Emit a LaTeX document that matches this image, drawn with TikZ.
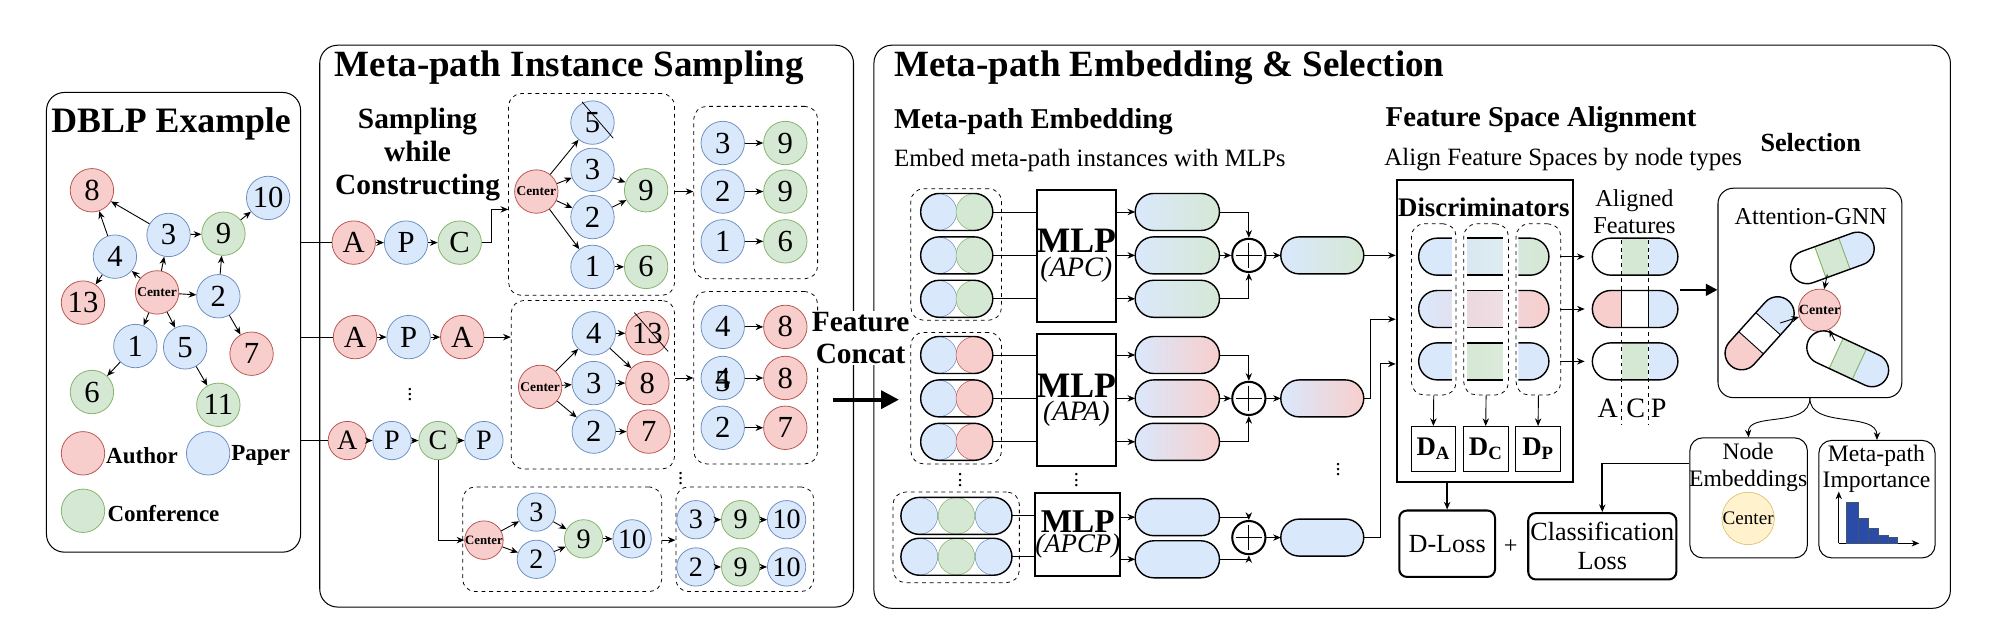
\documentclass[tikz,border=0pt]{standalone}
\usepackage{fontspec}
\setmainfont{Liberation Serif}
\usetikzlibrary{arrows.meta,calc}
\definecolor{rd}{HTML}{F8CECC}\definecolor{rdb}{HTML}{B85450}
\definecolor{bl}{HTML}{DAE8FC}\definecolor{blb}{HTML}{6C8EBF}
\definecolor{gr}{HTML}{D5E8D4}\definecolor{grb}{HTML}{82B366}
\definecolor{ye}{HTML}{FFF2CC}\definecolor{yeb}{HTML}{D6B656}
\definecolor{bar}{HTML}{2A4BA8}
\newcommand\fs[1]{\fontsize{#1}{#1}\selectfont}
% clipped pill with three sections: #1 scope opts, #2 half length, #3 half height, #4 split, #5 #6 #7 colours, #8 divider colour
\newcommand\tripill[8]{%
 \begin{scope}[#1]
 \begin{scope}\clip[rounded corners=#3 pt] (-#2,-#3) rectangle (#2,#3);
 \fill[#5] (-#2,-#3) rectangle (-#4,#3);
 \fill[#6] (-#4,-#3) rectangle (#4,#3);
 \fill[#7] (#4,-#3) rectangle (#2,#3);
 \end{scope}
 \draw[#8,line width=0.7pt] (-#4,-#3) -- (-#4,#3) (#4,-#3) -- (#4,#3);
 \draw[line width=1.1pt,rounded corners=#3 pt] (-#2,-#3) rectangle (#2,#3);
 \end{scope}}
\begin{document}
\begin{tikzpicture}[x=1pt,y=-1pt,
 nd/.style={circle,draw,line width=0.6pt,minimum size=34pt,inner sep=0pt,font=\fs{24}},
 sm/.style={minimum size=30pt,font=\fs{22}},
 A/.style={nd,fill=rd,draw=rdb},
 P/.style={nd,fill=bl,draw=blb},
 C/.style={nd,fill=gr,draw=grb},
 ctr/.style={A,font=\bfseries\fs{10.5}},
 arr/.style={-{Stealth[length=6pt,width=5pt]},line width=0.7pt},
 panel/.style={draw,line width=0.8pt,rounded corners=14pt,anchor=north west,inner sep=0pt},
 dbox/.style={draw,dashed,line width=0.6pt,rounded corners=10pt,anchor=north west,inner sep=0pt},
 ttl/.style={font=\bfseries\fs{29},anchor=west,inner sep=0pt},
 sub/.style={font=\bfseries\fs{22.5},anchor=west,inner sep=0pt},
 txt/.style={font=\fs{19.5},anchor=west,inner sep=0pt},
 vd/.style={inner sep=0pt,font=\fs{16}},
 mlp/.style={draw,line width=1.6pt,anchor=north west,inner sep=0pt,align=center},
 plus/.style={circle,draw,line width=1.6pt,minimum size=26pt,inner sep=0pt,
   path picture={\draw[line width=0.8pt] ($(path picture bounding box.north)+(0,3)$) -- ($(path picture bounding box.south)+(0,-3)$)
   ($(path picture bounding box.west)+(3,0)$) -- ($(path picture bounding box.east)+(-3,0)$);}},
 rbox/.style={draw,line width=1.6pt,rounded corners=6pt,anchor=north west,inner sep=0pt,align=center,font=\fs{20.5}},
 lbl/.style={font=\bfseries\fs{18},anchor=west,inner sep=0pt},
 cross/.style={line width=0.6pt}
]
\useasboundingbox (0,0) rectangle (1560,492.6);
% ---------------- panels
\node[panel,minimum width=199pt,minimum height=360pt] (dblp) at (36,72) {};
\node[panel,minimum width=418pt,minimum height=440pt] (samp) at (250,35) {};
\node[panel,minimum width=843pt,minimum height=441pt] (emb) at (684,35) {};
\node[font=\bfseries\fs{28},inner sep=0pt] (t1) at (134,97) {DBLP Example};
\node[ttl] (t2) at (262,53) {Meta-path Instance Sampling};
\node[ttl] (t3) at (700,53) {Meta-path Embedding \& Selection};
% ---------------- DBLP graph
\node[A] (d8) at (72,149) {8};
\node[P] (d10) at (210,155) {10};
\node[P] (d3) at (132,184) {3};
\node[C] (d9) at (175,183) {9};
\node[P] (d4) at (90,201) {4};
\node[A] (d13) at (65,237) {13};
\node[ctr] (dc) at (123,229) {Center};
\node[P] (d2) at (171,232) {2};
\node[P] (d1) at (106,271) {1};
\node[P] (d5) at (145,272) {5};
\node[A] (d7) at (197,277) {7};
\node[C] (d6) at (72,307) {6};
\node[C] (d11) at (171,317) {11};
\foreach \a/\b in {d3/d8,d4/d8,d3/d9,d9/d10,dc/d3,dc/d4,d4/d13,dc/d2,d2/d9,d2/d7,dc/d1,dc/d5,d1/d6,d5/d11}
  \draw[arr] (\a) -- (\b);
\node[A] (la) at (65,355) {};
\node[lbl] (lat) at (83,357) {Author};
\node[P] (lp) at (163,355) {};
\node[lbl] (lpt) at (181,357) {Paper};
\node[C] (lc) at (65,400) {};
\node[lbl] (lct) at (84,402) {Conference};
% ---------------- sampling
\node[font=\bfseries\fs{23},align=center,inner sep=0pt] (swc) at (327,121) {Sampling\\[3pt]while\\[3pt]Constructing};
\node[A] (r1a) at (277,190) {A};
\node[P] (r1p) at (318,190) {P};
\node[C] (r1c) at (360,190) {C};
\node[A] (r2a) at (278,264) {A};
\node[P] (r2p) at (320,264) {P};
\node[A] (r2b) at (362,264) {A};
\node[vd] (sv1) at (321,306) {$\vdots$};
\node[A,sm] (r3a) at (272,345) {A};
\node[P,sm] (r3p) at (307,345) {P};
\node[C,sm] (r3c) at (343,345) {C};
\node[P,sm] (r3q) at (379,345) {P};
\foreach \a/\b in {r1a/r1p,r1p/r1c,r2a/r2p,r2p/r2b,r3a/r3p,r3p/r3c,r3c/r3q} \draw[arr] (\a) -- (\b);
\foreach \r in {r1a,r2a,r3a} \draw[line width=0.7pt] (dblp.east |- \r) -- (\r);
% box 1
\node[dbox,minimum width=130pt,minimum height=158pt] (b1) at (398,73) {};
\node[ctr] (c1) at (420,150) {Center};
\node[P] (b1n5) at (464,96) {5};
\node[P] (b1n3) at (464,133) {3};
\node[P] (b1n2) at (464,170) {2};
\node[C] (b1n9) at (506,149) {9};
\node[P] (b1n1) at (464,209) {1};
\node[C] (b1n6) at (506,209) {6};
\draw[cross] (b1n5.north west)++(4,-4) -- ($(b1n5.south east)+(4,0)$);
\foreach \a/\b in {c1/b1n5,c1/b1n3,c1/b1n2,c1/b1n1,b1n3/b1n9,b1n2/b1n9,b1n1/b1n6} \draw[arr] (\a) -- (\b);
\coordinate (k1) at (385,164);
\draw[arr] (r1c) -| (k1) -- (b1.west |- k1);
% box 2
\node[dbox,minimum width=128pt,minimum height=132pt] (b2) at (400,235) {};
\node[ctr] (c2) at (423,303) {Center};
\node[P] (b2n4) at (465,261) {4};
\node[A] (b2n13) at (507,261) {13};
\node[P] (b2n3) at (465,300) {3};
\node[A] (b2n8) at (507,300) {8};
\node[P] (b2n2) at (465,338) {2};
\node[A] (b2n7) at (508,338) {7};
\draw[cross] ($(b2n13.north west)+(2,-4)$) -- ($(b2n13.south east)+(4,2)$);
\foreach \a/\b in {c2/b2n4,c2/b2n3,c2/b2n2,b2n4/b2n13,b2n4/b2n8,b2n3/b2n8,b2n2/b2n7} \draw[arr] (\a) -- (\b);
\draw[arr] (r2b) -- (b2.west |- r2b);
% box 3
\node[dbox,minimum width=156pt,minimum height=82pt] (b3) at (362,381) {};
\node[ctr,minimum size=30pt,font=\bfseries\fs{10}] (c3) at (379,423) {Center};
\node[P,sm] (b3n3) at (420,401) {3};
\node[P,sm] (b3n2) at (420,438) {2};
\node[C,sm] (b3n9) at (457,422) {9};
\node[P,sm] (b3n10) at (495,422) {10};
\foreach \a/\b in {c3/b3n3,c3/b3n2,b3n3/b3n9,b3n2/b3n9,b3n9/b3n10} \draw[arr] (\a) -- (\b);
\draw[arr] (r3c) |- (c3);
% box A
\node[dbox,minimum width=97pt,minimum height=135pt] (ba) at (543,83) {};
\node[P] (ba3) at (566,112) {3}; \node[C] (ba9) at (615,112) {9};
\node[P] (ba2) at (566,150) {2}; \node[C] (ba9b) at (615,150) {9};
\node[P] (ba1) at (566,189) {1}; \node[C] (ba6) at (615,189) {6};
\foreach \a/\b in {ba3/ba9,ba2/ba9b,ba1/ba6} \draw[arr] (\a) -- (\b);
\draw[arr] (b1.east |- ba2) -- (ba.west |- ba2);
% box B
\node[dbox,minimum width=97pt,minimum height=135pt] (bb) at (543,228) {};
\node[P] (bb4) at (566,256) {4}; \node[A] (bb8) at (615,256) {8};
\node[P] (bb4b) at (566,296) {4}; \node[inner sep=0pt,font=\fs{24}] (bb5) at (566,299) {5}; \node[A] (bb8b) at (615,296) {8};
\node[P] (bb2) at (566,335) {2}; \node[A] (bb7) at (615,335) {7};
\foreach \a/\b in {bb4/bb8,bb4b/bb8b,bb2/bb7} \draw[arr] (\a) -- (\b);
\draw[arr] (b2.east |- bb4b) -- (bb.west |- bb4b);
% box 4
\node[dbox,minimum width=108pt,minimum height=82pt] (b4) at (529,381) {};
\node[P,sm] (b4a) at (545,407) {3}; \node[C,sm] (b4b) at (580,407) {9}; \node[P,sm] (b4c) at (616,407) {10};
\node[P,sm] (b4d) at (545,444) {2}; \node[C,sm] (b4e) at (580,444) {9}; \node[P,sm] (b4f) at (616,444) {10};
\foreach \a/\b in {b4a/b4b,b4b/b4c,b4d/b4e,b4e/b4f} \draw[arr] (\a) -- (\b);
\draw[arr] (b3.east |- c3) -- (b4.west |- c3);
\node[vd] (sv2) at (533,372) {$\vdots$};
% feature concat
\node[font=\bfseries\fs{23},align=center,fill=white,inner sep=1pt] (fc) at (674,265) {Feature\\[2pt]Concat};
\coordinate (fa) at (652,313); \coordinate (fb) at (704,313);
\draw[-{Triangle[length=14pt,width=14pt]},line width=3pt] (fa) -- (fb);
% ---------------- embedding
\node[sub] (s1) at (700,95) {Meta-path Embedding};
\node[txt] (s1t) at (700,126) {Embed meta-path instances with MLPs};
\node[sub] (s2) at (1085,94) {Feature Space Alignment};
\node[txt] (s2t) at (1084,125) {Align Feature Spaces by node types};
\node[font=\bfseries\fs{20.5},inner sep=0pt] (s3) at (1418,112) {Selection};
% input groups
\node[dbox,minimum width=71pt,minimum height=103pt] (g1) at (713,147.5) {};
\node[dbox,minimum width=71pt,minimum height=103pt] (g2) at (713,260) {};
\node[dbox,minimum width=99pt,minimum height=71pt] (g3) at (699,385) {};
\foreach \y/\cc/\cb/\n in {166/gr/grb/a1,200/gr/grb/a2,234/gr/grb/a3,278/rd/rdb/b1,312/rd/rdb/b2,346/rd/rdb/b3}{
  \draw[fill=bl,draw=blb] (735,\y) circle (14.3);
  \draw[fill=\cc,draw=\cb] (763,\y) circle (14.3);
  \draw[line width=1.1pt,rounded corners=14.5pt] (721,\y-14.5) rectangle (777.5,\y+14.5);
  \coordinate (in\n) at (777.5,\y);
}
\foreach \y/\n in {404/c1,436/c2}{
  \draw[fill=bl,draw=blb] (720,\y) circle (14.3);
  \draw[fill=bl,draw=blb] (778,\y) circle (14.3);
  \draw[fill=gr,draw=grb] (749,\y) circle (14.3);
  \draw[line width=1.1pt,rounded corners=14.5pt] (705.5,\y-14.5) rectangle (792.5,\y+14.5);
  \coordinate (in\n) at (792.5,\y);
}
\node[vd] (gv) at (752,373) {$\vdots$};
% MLPs
\node[mlp,minimum width=62pt,minimum height=103pt] (m1) at (811,148) {\bfseries\fs{28}MLP\\[2pt]\itshape\fs{22}(APC)};
\node[mlp,minimum width=62pt,minimum height=103pt] (m2) at (811,261) {\bfseries\fs{28}MLP\\[2pt]\itshape\fs{22}(APA)};
\node[mlp,minimum width=63pt,minimum height=65pt] (m3) at (810,385) {\bfseries\fs{26}MLP\\[0pt]\itshape\fs{21}(APCP)};
\node[vd] (mv) at (843,373) {$\vdots$};
\foreach \n/\m in {a1/m1,a2/m1,a3/m1,b1/m2,b2/m2,b3/m2,c1/m3,c2/m3} \draw[line width=0.7pt] (in\n) -- (\m.west |- in\n);
% output pills
\foreach \y/\cc/\n/\m in {166/gr/a1/m1,200/gr/a2/m1,234/gr/a3/m1,278/rd/b1/m2,312/rd/b2/m2,346/rd/b3/m2}{
  \shadedraw[left color=bl,right color=\cc,line width=1.1pt,rounded corners=14.5pt] (889,\y-14.5) rectangle (955,\y+14.5);
  \coordinate (oi\n) at (889,\y); \coordinate (oo\n) at (955,\y);
  \draw[arr] (\m.east |- oi\n) -- (oi\n);
}
\foreach \y/\n in {405/c1,438/c2}{
  \shadedraw[left color=bl,middle color=gr,right color=bl,line width=1.1pt,rounded corners=14.5pt] (889,\y-14.5) rectangle (955,\y+14.5);
  \coordinate (oi\n) at (889,\y); \coordinate (oo\n) at (955,\y);
  \draw[arr] (m3.east |- oi\n) -- (oi\n);
}
\node[plus] (p1) at (978,200) {};
\node[plus] (p2) at (978,312) {};
\node[plus] (p3) at (978,421) {};
\draw[arr] (ooa1) -| (p1.north); \draw[arr] (ooa2) -- (p1.west); \draw[arr] (ooa3) -| (p1.south);
\draw[arr] (oob1) -| (p2.north); \draw[arr] (oob2) -- (p2.west); \draw[arr] (oob3) -| (p2.south);
\draw[arr] (ooc1) -| (p3.north); \draw[arr] (ooc2) -| (p3.south);
\shadedraw[left color=bl,right color=gr,line width=1.1pt,rounded corners=14.5pt] (1003,185.5) rectangle (1068,214.5);
\shadedraw[left color=bl,right color=rd,line width=1.1pt,rounded corners=14.5pt] (1003,297.5) rectangle (1068,326.5);
\shadedraw[left color=bl,middle color=gr,right color=bl,line width=1.1pt,rounded corners=14.5pt] (1003,406.5) rectangle (1068,435.5);
\coordinate (e1) at (1003,200); \coordinate (e2) at (1003,312); \coordinate (e3) at (1003,421);
\coordinate (f1) at (1068,200); \coordinate (f2) at (1068,312); \coordinate (f3) at (1068,421);
\draw[arr] (p1) -- (e1); \draw[arr] (p2) -- (e2); \draw[arr] (p3) -- (e3);
\node[vd] (ov) at (1048,365) {$\vdots$};
% discriminators
\node[mlp,minimum width=138pt,minimum height=237pt] (disc) at (1093,140) {};
\node[font=\bfseries\fs{21},inner sep=0pt] (dt) at (1162,162) {Discriminators};
\draw[arr] (f1) -- (disc.west |- f1);
\coordinate (j2) at (1073,250); \coordinate (j3) at (1081,285);
\draw[arr] (f2) -| (j2) -- (disc.west |- j2);
\draw[arr] (f3) -| (j3) -- (disc.west |- j3);
\node[dbox,minimum width=35pt,minimum height=134pt] (dc1) at (1105,175) {};
\node[dbox,minimum width=35pt,minimum height=134pt] (dc2) at (1146,175) {};
\node[dbox,minimum width=35pt,minimum height=134pt] (dc3) at (1187,175) {};
\foreach \y/\ca/\cb/\cc in {201/bl/{bl!70!gr}/gr,242/{bl!75!rd}/{rd!60!bl}/rd,283/bl/gr/bl}{
  \shadedraw[left color=bl,right color=\ca,line width=1.1pt] (1137,\y-14.5) -- (1125.5,\y-14.5) arc[start angle=270,end angle=90,radius=14.5] -- (1137,\y+14.5);
  \shade[left color=\cb,right color=\cb!85] (1149,\y-14.5) rectangle (1177,\y+14.5);
  \draw[line width=1.1pt] (1149,\y-14.5) -- (1177,\y-14.5) (1149,\y+14.5) -- (1177,\y+14.5);
  \shadedraw[left color=\cc!80!bl,right color=\cc,line width=1.1pt] (1189,\y-14.5) -- (1198.5,\y-14.5) arc[start angle=270,end angle=450,radius=14.5] -- (1189,\y+14.5);
}
\node[draw,line width=0.8pt,minimum width=35pt,minimum height=35pt,inner sep=0pt,font=\bfseries\fs{21}] (da) at (1122.5,351.5) {D\textsubscript{A}};
\node[draw,line width=0.8pt,minimum width=35pt,minimum height=35pt,inner sep=0pt,font=\bfseries\fs{21}] (dcc) at (1163.5,351.5) {D\textsubscript{C}};
\node[draw,line width=0.8pt,minimum width=35pt,minimum height=35pt,inner sep=0pt,font=\bfseries\fs{21}] (dp) at (1204.5,351.5) {D\textsubscript{P}};
\draw[arr] (dc1.south) -- (da.north); \draw[arr] (dc2.south) -- (dcc.north); \draw[arr] (dc3.south) -- (dp.north);
% aligned features
\node[font=\fs{19},align=center,inner sep=0pt] (af) at (1280,166) {Aligned\\[2pt]Features};
\tripill{shift={(1280.5,201)}}{33.5}{14.5}{10.5}{white}{gr}{bl}{white}
\tripill{shift={(1280.5,242)}}{33.5}{14.5}{10.5}{rd}{white}{bl}{black}
\tripill{shift={(1280.5,283)}}{33.5}{14.5}{10.5}{white}{gr}{bl}{white}
\draw[dashed,line width=0.6pt] (1270,188) -- (1270,333) (1291,188) -- (1291,333);
\node[font=\fs{22},inner sep=0pt] (lA) at (1259,320) {A};
\node[font=\fs{22},inner sep=0pt] (lC) at (1281,320) {C};
\node[font=\fs{22},inner sep=0pt] (lP) at (1299,320) {P};
\foreach \y in {201,242,283} \draw[arr] (1222,\y) -- (1241,\y);
% attention gnn
\node[draw,line width=0.8pt,rounded corners=12pt,minimum width=144pt,minimum height=164pt,anchor=north west,inner sep=0pt] (gnn) at (1345,147) {};
\node[font=\fs{19},inner sep=0pt] (gt) at (1418,170) {Attention-GNN};
\draw[-{Triangle[length=9pt,width=9pt]},line width=2pt] (1316,227) -- (gnn.west |- 0,227);
\node[ctr,minimum size=33pt,font=\bfseries\fs{11}] (gc) at (1425,243) {Center};
\tripill{shift={(1435,202)},rotate=20}{34}{13}{10}{white}{gr}{bl}{grb}
\tripill{shift={(1378,261)},rotate=48}{34}{13}{10}{rd}{white}{bl}{black}
\tripill{shift={(1447,281)},rotate=-25}{34}{13}{10}{white}{gr}{bl}{grb}
\coordinate (q1) at (1431,215); \coordinate (q2) at (1394,253); \coordinate (q3) at (1437,267);
\draw[arr] (q1) -- (gc); \draw[arr] (q2) -- (gc); \draw[arr] (q3) -- (gc);
% outputs
\node[draw,line width=0.8pt,rounded corners=10pt,minimum width=92pt,minimum height=94pt,anchor=north west,inner sep=0pt] (ne) at (1323,342.5) {};
\node[font=\fs{18.5},align=center,inner sep=0pt] (net) at (1369,366) {Node\\[2pt]Embeddings};
\node[circle,fill=ye,draw=yeb,minimum size=40pt,inner sep=0pt,font=\fs{15}] (yc) at (1369,406) {Center};
\node[draw,line width=0.8pt,rounded corners=10pt,minimum width=91pt,minimum height=92pt,anchor=north west,inner sep=0pt] (mi) at (1424,344.5) {};
\node[font=\fs{18.5},align=center,inner sep=0pt] (mit) at (1469.5,367) {Meta-path\\[2pt]Importance};
\draw[arr] (gnn.south) .. controls (1417,336) and (1368,322) .. (ne.north);
\draw[arr] (gnn.south) .. controls (1417,336) and (1470,322) .. (mi.north);
\coordinate (ax) at (1440,425.5);
\draw[arr] (ax) -- (1440,385); \draw[arr] (ax) -- (1503,425.5);
\foreach \xa/\xb/\h in {1446/1455/393,1455/1463/406,1463/1471/414,1471/1479/419,1479/1486/421}
  \draw[fill=bar,draw=blb!60!black,line width=0.3pt] (\xa,425.5) rectangle (\xb,\h);
\node[rbox,minimum width=75pt,minimum height=52pt] (dl) at (1095,399) {D-Loss};
\node[font=\fs{19},inner sep=0pt] (pl) at (1183,428) {+};
\node[rbox,minimum width=116pt,minimum height=52pt] (cl) at (1196,401) {Classification\\[2pt]Loss};
\draw[arr,line width=1.4pt] (disc.south -| dl.north) -- (dl.north);
\draw[arr,line width=1.4pt] (ne.west |- 0,363) -| (cl.north);
\end{tikzpicture}
\end{document}
